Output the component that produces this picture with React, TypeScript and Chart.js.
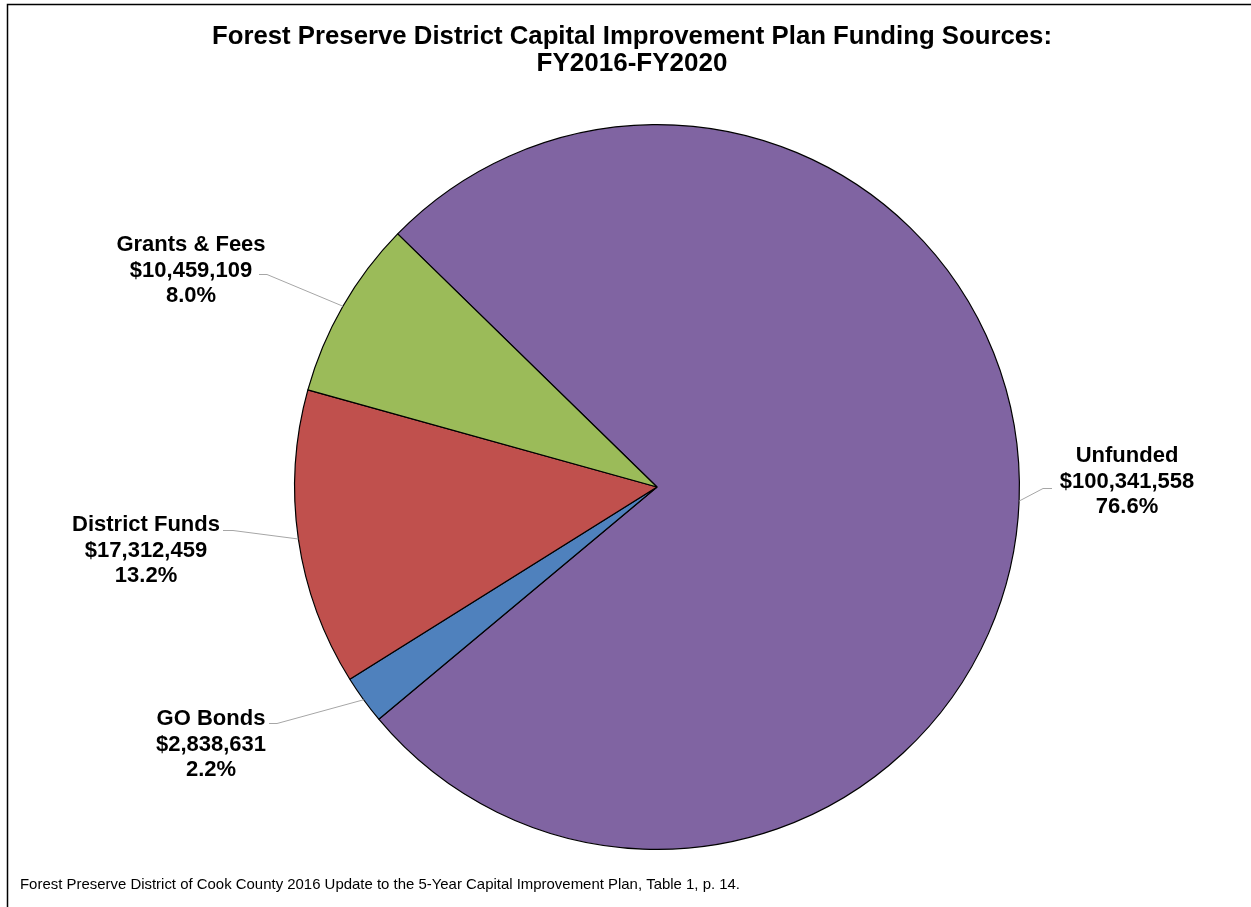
import React, { useEffect, useRef } from "react";
import { Chart, registerables } from "chart.js";

Chart.register(...registerables);

const categories = ["Unfunded", "GO Bonds", "District Funds", "Grants & Fees"];
const amounts = [100341558, 2838631, 17312459, 10459109];
const amountLabels = ["$100,341,558", "$2,838,631", "$17,312,459", "$10,459,109"];
const percentLabels = ["76.6%", "2.2%", "13.2%", "8.0%"];
const colors = ["#8064A2", "#4F81BD", "#C0504D", "#9BBB59"];

const titleLines = [
  "Forest Preserve District Capital Improvement Plan Funding Sources:",
  "FY2016-FY2020",
];
const footnote =
  "Forest Preserve District of Cook County 2016 Update to the 5-Year Capital Improvement Plan, Table 1, p. 14.";

// label layout (positions only): text centre x, first baseline y, leader end x, knee x, leader y
const labelLayout = [
  { cx: 1127, y: 462, ex: 1052, kx: 1043, ly: 488 },
  { cx: 211, y: 725, ex: 269, kx: 277, ly: 723 },
  { cx: 146, y: 531, ex: 223, kx: 233, ly: 530 },
  { cx: 191, y: 251, ex: 259, kx: 267, ly: 274 },
];

const FONT = "'Liberation Sans', Arial, sans-serif";

const decorPlugin = {
  id: "decor",
  afterDraw(chart: any) {
    const ctx = chart.ctx as CanvasRenderingContext2D;
    ctx.save();
    // frame
    ctx.strokeStyle = "#000";
    ctx.lineWidth = 1.5;
    ctx.beginPath();
    ctx.moveTo(7.5, 2000);
    ctx.lineTo(7.5, 4.5);
    ctx.lineTo(2000, 4.5);
    ctx.stroke();

    // title
    ctx.fillStyle = "#000";
    ctx.textAlign = "center";
    ctx.textBaseline = "alphabetic";
    ctx.font = `bold 26px ${FONT}`;
    ctx.fillText(titleLines[0], 632, 44, 840);
    ctx.fillText(titleLines[1], 632, 71, 840);

    // footnote
    ctx.textAlign = "left";
    ctx.font = `15px ${FONT}`;
    ctx.fillText(footnote, 20, 889, 720);

    // leaders and labels
    const meta = chart.getDatasetMeta(0);
    meta.data.forEach((arc: any, i: number) => {
      const lay = labelLayout[i];
      const mid = (arc.startAngle + arc.endAngle) / 2;
      const px = arc.x + Math.cos(mid) * arc.outerRadius;
      const py = arc.y + Math.sin(mid) * arc.outerRadius;
      ctx.strokeStyle = "#A6A6A6";
      ctx.lineWidth = 1;
      ctx.beginPath();
      ctx.moveTo(px, py);
      ctx.lineTo(lay.kx, lay.ly + 0.5);
      ctx.lineTo(lay.ex, lay.ly + 0.5);
      ctx.stroke();

      ctx.fillStyle = "#000";
      ctx.textAlign = "center";
      ctx.font = `bold 22px ${FONT}`;
      const lines = [categories[i], amountLabels[i], percentLabels[i]];
      lines.forEach((t, k) => ctx.fillText(t, lay.cx, lay.y + k * 25.5));
    });
    ctx.restore();
  },
};

export default function App() {
  const ref = useRef<HTMLCanvasElement | null>(null);
  useEffect(() => {
    if (!ref.current) return;
    const chart = new Chart(ref.current, {
      type: "pie",
      data: {
        labels: categories,
        datasets: [
          {
            data: amounts,
            backgroundColor: colors,
            borderColor: "#000",
            borderWidth: 1.2,
          },
        ],
      },
      options: {
        responsive: false,
        animation: false,
        devicePixelRatio: 1,
        rotation: -45.7,
        layout: { padding: { left: 294, right: 231, top: 124, bottom: 57 } },
        plugins: {
          legend: { display: false },
          title: { display: false },
          tooltip: { enabled: false },
        },
      },
      plugins: [decorPlugin],
    });
    return () => chart.destroy();
  }, []);
  return (
    <div style={{ position: "fixed", left: 0, top: 0, width: 1251, height: 907, background: "#fff" }}>
      <canvas ref={ref} width={1251} height={907} />
    </div>
  );
}
